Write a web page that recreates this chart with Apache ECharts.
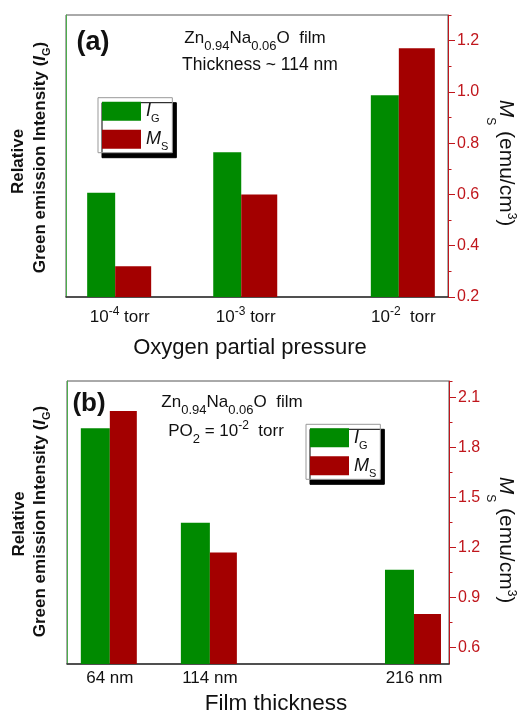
<!DOCTYPE html>
<html><head><meta charset="utf-8">
<script src="https://cdn.jsdelivr.net/npm/echarts@6/dist/echarts.min.js"></script>
<style>html,body{margin:0;padding:0;background:#fff}#c{width:519px;height:713px}</style>
</head><body><div id="c"></div>
<script>
// ---- data (panel a) ----
const pressureLabels = ['10^-4 torr', '10^-3 torr', '10^-2  torr'];
const pressurePos = [1, 2, 3.25];            // position of each pressure group along the x axis
const intensityA = [0.370, 0.513, 0.715];     // relative green emission intensity (arb. units)
const msA = [0.32, 0.60, 1.17];               // Ms (emu/cm^3)
const msTicksA = [0.2, 0.4, 0.6, 0.8, 1.0, 1.2];
const msMinorA = [0.3, 0.5, 0.7, 0.9, 1.1, 1.3];
// ---- data (panel b) ----
const thicknessNm = [64, 114, 216];
const intensityB = [0.833, 0.499, 0.333];
const msB = [2.02, 1.17, 0.80];
const msTicksB = [0.6, 0.9, 1.2, 1.5, 1.8, 2.1];
const msMinorB = [0.75, 1.05, 1.35, 1.65, 1.95, 2.2];

const FONT = '"Liberation Sans", Arial, Helvetica, sans-serif';
const RED_AXIS = '#c0161c';
const GREEN_BAR = '#008a00';
const RED_BAR = '#a30000';
const GREEN_AXIS = '#4cae4c';
const INK = '#111';

function barItem(side, w, base) {
  return function (params, api) {
    const top = api.coord([api.value(0), api.value(1)]);
    const bot = api.coord([api.value(0), base]);
    return {
      type: 'rect',
      shape: { x: side < 0 ? top[0] - w : top[0], y: top[1], width: w, height: bot[1] - top[1] },
      style: { fill: api.visual('color') }
    };
  };
}

const supRich = {
  n: { fontFamily: FONT, fontSize: 17, lineHeight: 24, color: INK },
  p: { fontFamily: FONT, fontSize: 12, lineHeight: 12, color: INK, padding: [0, 0, 10, 0] },
  s: { fontFamily: FONT, fontSize: 13, lineHeight: 13, color: INK, padding: [16, 0, 0, 0] }
};

function pressureFmt(v) {
  let i = pressurePos.findIndex(p => Math.abs(p - v) < 1e-6);
  if (i < 0) return '';
  const m = pressureLabels[i].match(/^(\d+)\^(-?\d+)(.*)$/);
  return '{n|' + m[1] + '}{p|' + m[2] + '}{n|' + m[3] + '}';
}

function leftAxis(grid) {
  return { type: 'value', gridIndex: grid, position: 'left', min: 0, max: 1,
    axisLine: { show: true, lineStyle: { color: GREEN_AXIS, width: 1 } },
    axisTick: { show: false }, axisLabel: { show: false }, splitLine: { show: false } };
}
function rightAxis(grid, min, max, ticks) {
  return { type: 'value', gridIndex: grid, position: 'right', min: min, max: max,
    axisLine: { show: true, lineStyle: { color: RED_AXIS, width: 1 } },
    axisTick: { show: true, inside: false, length: 7, customValues: ticks, lineStyle: { color: RED_AXIS } },
    axisLabel: { customValues: ticks, formatter: v => v.toFixed(1), color: RED_AXIS,
      fontFamily: FONT, fontSize: 16, margin: 9 },
    splitLine: { show: false } };
}
function minorAxis(grid, min, max, ticks) {
  return { type: 'value', gridIndex: grid, position: 'right', min: min, max: max,
    axisLine: { show: false },
    axisTick: { show: true, inside: false, length: 3.5, customValues: ticks, lineStyle: { color: RED_AXIS } },
    axisLabel: { show: false }, splitLine: { show: false } };
}

function legendOf(left, top) {
  return {
    orient: 'vertical', left: left, top: top, icon: 'rect', selectedMode: false,
    itemWidth: 39, itemHeight: 19, itemGap: 1, padding: [0, 4, 0, 4],
    backgroundColor: '#fff', borderColor: '#999', borderWidth: 1,
    shadowColor: '#000', shadowBlur: 0, shadowOffsetX: 4, shadowOffsetY: 5,
    data: ['IG', 'MS'],
    itemStyle: { borderWidth: 0 },
    formatter: n => n === 'IG' ? '{i|I}{s|G}' : '{i|M}{s|S}',
    textStyle: { rich: {
      i: { fontFamily: FONT, fontStyle: 'italic', fontSize: 18, lineHeight: 19, color: INK },
      s: { fontFamily: FONT, fontSize: 11, lineHeight: 11, color: INK, padding: [16, 0, 0, 0] }
    } }
  };
}

function txt(x, y, text, opts) {
  return Object.assign({ type: 'text', x: x, y: y, silent: true,
    style: Object.assign({ text: text, align: 'center', verticalAlign: 'middle', fill: INK,
      fontFamily: FONT, fontSize: 17 }, opts && opts.style) }, opts && opts.el);
}

const leftTitleRich = {
  b: { fontFamily: FONT, fontWeight: 'bold', fontSize: 17, lineHeight: 22, color: INK },
  i: { fontFamily: FONT, fontWeight: 'bold', fontStyle: 'italic', fontSize: 17, lineHeight: 22, color: INK },
  s: { fontFamily: FONT, fontWeight: 'bold', fontSize: 11, lineHeight: 11, color: INK, padding: [12, 0, 0, 0] }
};
const rightTitleRich = {
  i: { fontFamily: FONT, fontStyle: 'italic', fontSize: 21, lineHeight: 26, color: RED_AXIS },
  n: { fontFamily: FONT, fontSize: 21, lineHeight: 26, color: RED_AXIS },
  s: { fontFamily: FONT, fontSize: 12, lineHeight: 12, color: RED_AXIS, padding: [30, 0, 0, 0] },
  p: { fontFamily: FONT, fontSize: 12, lineHeight: 12, color: RED_AXIS, padding: [0, 0, 12, 0] }
};
const znText = '{n|Zn}{s|0.94}{n|Na}{s|0.06}{n|O  film}';

const option = {
  animation: false,
  backgroundColor: '#fff',
  grid: [
    { left: 66, top: 15, width: 382, height: 282, show: true, borderColor: '#555', borderWidth: 1, backgroundColor: 'transparent' },
    { left: 67, top: 381, width: 382, height: 283, show: true, borderColor: '#555', borderWidth: 1, backgroundColor: 'transparent' }
  ],
  xAxis: [
    { type: 'value', gridIndex: 0, min: 0.61, max: 3.64,
      axisLine: { show: true, lineStyle: { color: '#333', width: 1.6 } },
      axisTick: { show: false }, splitLine: { show: false },
      axisLabel: { customValues: pressurePos, formatter: pressureFmt, rich: supRich, margin: 8, padding: [0, 0, 0, 9] } },
    { type: 'value', gridIndex: 1, min: 42.6, max: 233.5,
      axisLine: { show: true, lineStyle: { color: '#333', width: 1.6 } },
      axisTick: { show: false }, splitLine: { show: false },
      axisLabel: { customValues: thicknessNm, formatter: v => v + ' nm', color: INK,
        fontFamily: FONT, fontSize: 17, lineHeight: 20, margin: 4 } }
  ],
  yAxis: [
    leftAxis(0), rightAxis(0, 0.2, 1.3, msTicksA), minorAxis(0, 0.2, 1.3, msMinorA),
    leftAxis(1), rightAxis(1, 0.5, 2.2, msTicksB), minorAxis(1, 0.5, 2.2, msMinorB)
  ],
  legend: [legendOf(98, 97.7), legendOf(306, 424.3)],
  series: [
    { name: 'IG', type: 'custom', xAxisIndex: 0, yAxisIndex: 0, itemStyle: { color: GREEN_BAR },
      encode: { x: 0, y: 1 }, renderItem: barItem(-1, 28, 0),
      data: pressurePos.map((p, i) => [p, intensityA[i]]) },
    { name: 'MS', type: 'custom', xAxisIndex: 0, yAxisIndex: 1, itemStyle: { color: RED_BAR },
      encode: { x: 0, y: 1 }, renderItem: barItem(1, 36, 0.2),
      data: pressurePos.map((p, i) => [p, msA[i]]) },
    { name: 'IG', type: 'custom', xAxisIndex: 1, yAxisIndex: 3, itemStyle: { color: GREEN_BAR },
      encode: { x: 0, y: 1 }, renderItem: barItem(-1, 29, 0),
      data: thicknessNm.map((t, i) => [t, intensityB[i]]) },
    { name: 'MS', type: 'custom', xAxisIndex: 1, yAxisIndex: 4, itemStyle: { color: RED_BAR },
      encode: { x: 0, y: 1 }, renderItem: barItem(1, 27, 0.5),
      data: thicknessNm.map((t, i) => [t, msB[i]]) }
  ],
  graphic: [
    // panel a annotations
    txt(93, 43, '(a)', { style: { fontWeight: 'bold', fontSize: 27 } }),
    txt(255, 38.5, znText, { style: { rich: supRich } }),
    txt(260, 65, 'Thickness ~ 114 nm', { style: { fontSize: 17.5 } }),
    txt(250, 348, 'Oxygen partial pressure', { style: { fontSize: 22 } }),
    txt(18.8, 161.5, 'Relative', { el: { rotation: Math.PI / 2 }, style: { fontWeight: 'bold', fontSize: 17 } }),
    txt(40.5, 157.5, '{b|Green emission Intensity (}{i|I}{s|G}{b|)}', { el: { rotation: Math.PI / 2 }, style: { rich: leftTitleRich } }),
    txt(505.5, 163, '{i|M}{s|S}{n| (emu/cm}{p|3}{n|)}', { el: { rotation: -Math.PI / 2 }, style: { rich: rightTitleRich } }),
    // panel b annotations
    txt(89, 404, '(b)', { style: { fontWeight: 'bold', fontSize: 26 } }),
    txt(232, 402, znText, { style: { rich: supRich } }),
    txt(226, 431, '{n|PO}{s|2}{n| = 10}{p|-2}{n|  torr}', { style: { rich: supRich } }),
    txt(276, 704, 'Film thickness', { style: { fontSize: 22.5 } }),
    txt(19, 524, 'Relative', { el: { rotation: Math.PI / 2 }, style: { fontWeight: 'bold', fontSize: 17 } }),
    txt(40.8, 521.5, '{b|Green emission Intensity (}{i|I}{s|G}{b|)}', { el: { rotation: Math.PI / 2 }, style: { rich: leftTitleRich } }),
    txt(505.5, 540, '{i|M}{s|S}{n| (emu/cm}{p|3}{n|)}', { el: { rotation: -Math.PI / 2 }, style: { rich: rightTitleRich } })
  ]
};

const chart = echarts.init(document.getElementById('c'), null, { renderer: 'canvas' });
chart.setOption(option);
</script>
</body></html>
